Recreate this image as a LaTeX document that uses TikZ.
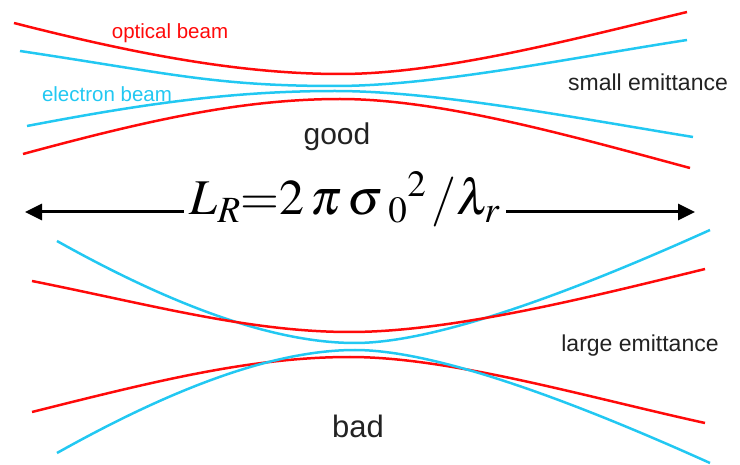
\documentclass[tikz,border=0pt]{standalone}
\usepackage{mathptmx}
\usepackage{fontspec}
\setmainfont{Liberation Sans}
\usetikzlibrary{arrows.meta}
\definecolor{beamred}{HTML}{FF0A0A}
\definecolor{beamblue}{HTML}{22C8F2}
\definecolor{inkc}{HTML}{222222}
\tikzset{
  rb/.style={beamred,line width=2.5pt},
  bb/.style={beamblue,line width=2.5pt},
  lbl/.style={anchor=base,inner sep=0pt,text=inkc},
  arr/.style={-{Triangle[length=17pt,width=16pt]},line width=3pt,black}
}
\begin{document}
\begin{tikzpicture}[x=1pt,y=-1pt]
\useasboundingbox (0,0) rectangle (740,465);
% small emittance
\draw[rb] (14,23) .. controls (134,53.7) and (240,74) .. (340,74)
  .. controls (440,74) and (567,40.8) .. (687,12);
\draw[bb] (20,51) .. controls (170,73.5) and (215,86) .. (335,86)
  .. controls (435,86) and (567,58.5) .. (687,40);
\draw[bb] (27,126) .. controls (147,103) and (235,91) .. (335,91)
  .. controls (435,91) and (573,117.4) .. (693,137);
\draw[rb] (23,154) .. controls (143,121.6) and (240,99) .. (340,99)
  .. controls (440,99) and (570,135.6) .. (690,168);
\node[lbl,text=beamred,font=\fontsize{20.5}{24}\selectfont] (optlbl) at (170,39) {optical beam};
\node[lbl,text=beamblue,font=\fontsize{20.5}{24}\selectfont] (elelbl) at (107,102) {electron beam};
\node[lbl,font=\fontsize{23}{27}\selectfont] (smalllbl) at (648,91) {small emittance};
\node[lbl,font=\fontsize{30}{34}\selectfont] (goodlbl) at (337,145) {good};
% Rayleigh length
\node[anchor=base,inner sep=6pt,font=\fontsize{50}{54}\selectfont] (LR) at (345,215)
  {$L_R\!\!=\!\!2\,\pi\,\sigma\,{}_0{}^{2}\,/\lambda_r$};
\coordinate (tipL) at (25,212);
\coordinate (tipR) at (695,212);
\draw[arr] (LR.west |- tipL) -- (tipL);
\draw[arr] (LR.east |- tipR) -- (tipR);
% large emittance
\draw[bb] (57,241) .. controls (157,297) and (265,343) .. (355,343)
  .. controls (445,343) and (600,279.5) .. (710,230);
\draw[rb] (32,281) .. controls (152,305) and (250,332) .. (350,332)
  .. controls (450,332) and (585,298.4) .. (705,269);
\draw[rb] (32,412) .. controls (152,382) and (250,357) .. (350,357)
  .. controls (450,357) and (585,396.6) .. (705,423);
\draw[bb] (57,453) .. controls (157,397) and (265,350) .. (355,350)
  .. controls (445,350) and (600,413.5) .. (710,463);
\node[lbl,font=\fontsize{23}{27}\selectfont] (largelbl) at (640,352) {large emittance};
\node[lbl,font=\fontsize{31}{35}\selectfont] (badlbl) at (358,438) {bad};
\end{tikzpicture}
\end{document}
